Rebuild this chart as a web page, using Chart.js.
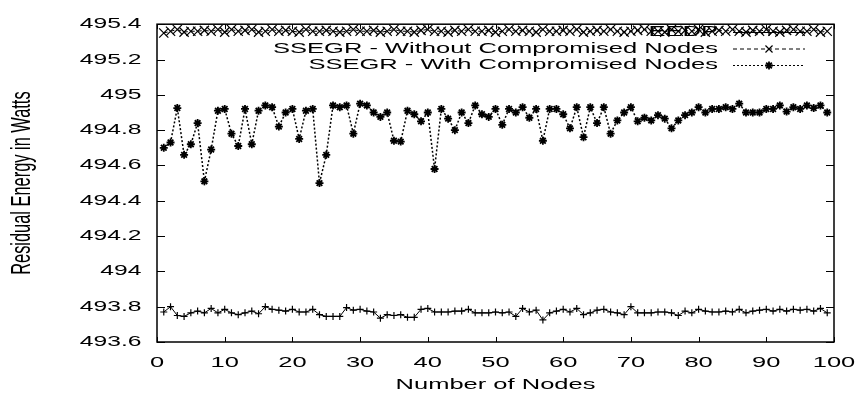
<!DOCTYPE html>
<html>
<head>
<meta charset="utf-8">
<script src="https://cdn.jsdelivr.net/npm/chart.js@4/dist/chart.umd.min.js"></script>
<style>
  html, body { margin: 0; padding: 0; background: #fff; }
  #wrap { width: 859px; height: 394px; position: relative; }
</style>
</head>
<body>
<div id="wrap"><canvas id="c"></canvas></div>
<script>
// ---------- data ----------
const nodes = [
  1,2,3,4,5,6,7,8,9,10,
  11,12,13,14,15,16,17,18,19,20,
  21,22,23,24,25,26,27,28,29,30,
  31,32,33,34,35,36,37,38,39,40,
  41,42,43,44,45,46,47,48,49,50,
  51,52,53,54,55,56,57,58,59,60,
  61,62,63,64,65,66,67,68,69,70,
  71,72,73,74,75,76,77,78,79,80,
  81,82,83,84,85,86,87,88,89,90,
  91,92,93,94,95,96,97,98,99
];

const seriesLabels = [
  'EEDP',
  'SSEGR - Without Compromised Nodes',
  'SSEGR - With Compromised Nodes'
];

const eedp = [
  493.77,493.80,493.75,493.745,493.765,493.775,493.765,493.79,493.765,493.785,
  493.765,493.755,493.765,493.775,493.76,493.80,493.785,493.78,493.775,493.785,
  493.77,493.77,493.785,493.755,493.745,493.745,493.745,493.795,493.78,493.785,
  493.775,493.77,493.735,493.755,493.75,493.755,493.74,493.74,493.785,493.79,
  493.77,493.77,493.77,493.775,493.775,493.785,493.765,493.765,493.765,493.77,
  493.765,493.77,493.745,493.79,493.77,493.78,493.725,493.765,493.775,493.785,
  493.77,493.79,493.755,493.765,493.78,493.785,493.77,493.765,493.755,493.80,
  493.765,493.765,493.765,493.77,493.77,493.765,493.75,493.775,493.765,493.785,
  493.775,493.77,493.77,493.775,493.77,493.785,493.765,493.775,493.78,493.785,
  493.775,493.785,493.775,493.785,493.78,493.785,493.775,493.79,493.765
];

const ssegrWithout = [
  495.35,495.36,495.37,495.355,495.36,495.36,495.365,495.36,495.37,495.355,
  495.37,495.36,495.365,495.37,495.355,495.36,495.37,495.36,495.365,495.36,
  495.355,495.37,495.36,495.36,495.365,495.36,495.355,495.36,495.37,495.36,
  495.36,495.365,495.355,495.36,495.37,495.36,495.36,495.355,495.365,495.37,
  495.36,495.36,495.355,495.365,495.36,495.37,495.36,495.36,495.365,495.355,
  495.36,495.37,495.36,495.365,495.36,495.355,495.37,495.36,495.36,495.365,
  495.36,495.37,495.355,495.36,495.365,495.36,495.37,495.36,495.355,495.36,
  495.365,495.37,495.36,495.36,495.355,495.37,495.36,495.365,495.36,495.37,
  495.355,495.36,495.365,495.36,495.37,495.36,495.355,495.365,495.36,495.37,
  495.36,495.355,495.365,495.37,495.36,495.36,495.37,495.355,495.36
];

const ssegrWith = [
  494.70,494.73,494.925,494.66,494.72,494.84,494.51,494.69,494.91,494.92,
  494.78,494.71,494.92,494.72,494.91,494.94,494.93,494.82,494.90,494.92,
  494.75,494.91,494.92,494.50,494.66,494.94,494.93,494.94,494.78,494.95,
  494.94,494.90,494.875,494.90,494.74,494.735,494.91,494.89,494.85,494.90,
  494.58,494.92,494.865,494.80,494.90,494.84,494.94,494.89,494.875,494.92,
  494.83,494.92,494.90,494.93,494.87,494.92,494.74,494.92,494.92,494.89,
  494.81,494.93,494.76,494.93,494.84,494.93,494.78,494.855,494.90,494.93,
  494.85,494.87,494.855,494.885,494.865,494.81,494.855,494.885,494.90,494.93,
  494.90,494.92,494.92,494.93,494.92,494.95,494.90,494.90,494.90,494.92,
  494.92,494.94,494.905,494.93,494.92,494.94,494.925,494.94,494.90
];

const xTickValues = [0,10,20,30,40,50,60,70,80,90,100];
const yTickValues = [493.6,493.8,494,494.2,494.4,494.6,494.8,495,495.2,495.4];
const xTitle = 'Number of Nodes';
const yTitle = 'Residual Energy in Watts';

// ---------- rendering ----------
const TEXT_STRETCH = 1.7; // reference text is horizontally stretched
const canvas = document.getElementById('c');
const ctx = canvas.getContext('2d');
const origFillText = ctx.fillText;
ctx.fillText = function (text, x, y, maxWidth) {
  const m = this.getTransform();
  const p = m.transformPoint(new DOMPoint(x, y));
  const s = new DOMMatrix().translate(p.x, p.y).scale(TEXT_STRETCH, 1).translate(-p.x, -p.y).multiply(m);
  this.setTransform(s);
  if (maxWidth === undefined || maxWidth === null) origFillText.call(this, text, x, y);
  else origFillText.call(this, text, x, y, maxWidth);
  this.setTransform(m);
};

const FONT = 'Liberation Sans, Arial, Helvetica, sans-serif';

const toXY = (vals) => nodes.map((n, i) => ({ x: n, y: vals[i] }));

const legendSamples = [
  { dash: [], pointStyle: 'cross', radius: 3.5, pw: 1.2 },
  { dash: [4, 3], pointStyle: 'crossRot', radius: 5, pw: 1.2 },
  { dash: [2, 2], pointStyle: 'star', radius: 4, pw: 1.8 }
];

const frameAndLegend = {
  id: 'frameAndLegend',
  afterDatasetsDraw(chart) {
    const { ctx, chartArea: a, scales } = chart;
    ctx.save();
    ctx.strokeStyle = '#000';
    ctx.lineWidth = 1.5;
    ctx.setLineDash([]);
    ctx.strokeRect(a.left, a.top, a.right - a.left, a.bottom - a.top);
    ctx.lineWidth = 1;
    ctx.beginPath();
    scales.y.ticks.forEach(t => {
      const y = Math.round(scales.y.getPixelForValue(t.value)) + 0.5;
      ctx.moveTo(a.left, y); ctx.lineTo(a.left + 8, y);
      ctx.moveTo(a.right, y); ctx.lineTo(a.right - 8, y);
    });
    scales.x.ticks.forEach(t => {
      const x = Math.round(scales.x.getPixelForValue(t.value)) + 0.5;
      ctx.moveTo(x, a.bottom); ctx.lineTo(x, a.bottom - 5);
      ctx.moveTo(x, a.top); ctx.lineTo(x, a.top + 5);
    });
    ctx.stroke();

    // key (gnuplot style: right-aligned text, sample to the right)
    const textRight = 718, x1 = 733, x2 = 805;
    const rowsY = [32, 48.5, 65];
    ctx.font = '15px ' + FONT;
    ctx.textAlign = 'right';
    ctx.textBaseline = 'middle';
    ctx.fillStyle = '#000';
    chart.data.datasets.forEach((ds, i) => {
      const y = rowsY[i];
      ctx.fillText(ds.label, textRight, y);
      const smp = legendSamples[i];
      ctx.save();
      ctx.lineWidth = 1;
      ctx.setLineDash(smp.dash);
      ctx.beginPath();
      ctx.moveTo(x1, y + 0.5); ctx.lineTo(x2, y + 0.5);
      ctx.stroke();
      ctx.setLineDash([]);
      ctx.lineWidth = smp.pw;
      Chart.helpers.drawPoint(ctx, { pointStyle: smp.pointStyle, radius: smp.radius, rotation: 0, borderWidth: smp.pw }, (x1 + x2) / 2, y + 0.5);
      ctx.restore();
    });
    ctx.restore();
  }
};

new Chart(ctx, {
  type: 'line',
  data: {
    datasets: [
      {
        label: seriesLabels[0],
        data: toXY(eedp),
        borderColor: '#000', backgroundColor: '#000',
        borderWidth: 1, pointStyle: 'cross', pointRadius: 3.5,
        pointBorderWidth: 1.2, pointBorderColor: '#000', tension: 0
      },
      {
        label: seriesLabels[1],
        data: toXY(ssegrWithout),
        borderColor: '#000', backgroundColor: '#000',
        borderWidth: 1, borderDash: [4, 3], pointStyle: 'crossRot', pointRadius: 6.5,
        pointBorderWidth: 1.2, pointBorderColor: '#000', tension: 0
      },
      {
        label: seriesLabels[2],
        data: toXY(ssegrWith),
        borderColor: '#000', backgroundColor: '#000',
        borderWidth: 1.5, borderDash: [2, 2], pointStyle: 'star', pointRadius: 4,
        pointBorderWidth: 1.8, pointBorderColor: '#000', tension: 0
      }
    ]
  },
  options: {
    responsive: true,
    maintainAspectRatio: false,
    animation: false,
    events: [],
    layout: { padding: { left: 0, right: 25, top: 19, bottom: 0 } },
    plugins: { legend: { display: false }, tooltip: { enabled: false } },
    scales: {
      x: {
        type: 'linear', min: 0, max: 100, offset: false,
        grid: { display: false, drawTicks: false },
        border: { display: false },
        afterBuildTicks: (s) => { s.ticks = xTickValues.map(v => ({ value: v })); },
        afterFit: (s) => { s.height = 52; },
        ticks: {
          autoSkip: false, maxRotation: 0, padding: 12, color: '#000',
          font: { family: FONT, size: 15 },
          callback: (v) => String(v)
        },
        title: {
          display: true, text: xTitle, color: '#000',
          font: { family: FONT, size: 15 },
          padding: { top: 0, bottom: 0 }
        }
      },
      y: {
        type: 'linear', min: 493.6, max: 495.4,
        grid: { display: false, drawTicks: false },
        border: { display: false },
        afterBuildTicks: (s) => { s.ticks = yTickValues.map(v => ({ value: v })); },
        afterFit: (s) => { s.width = 157; },
        ticks: {
          autoSkip: false, padding: 15.5, color: '#000',
          font: { family: FONT, size: 14.5 },
          callback: (v) => String(parseFloat(Number(v).toFixed(1)))
        },
        title: {
          display: true, text: yTitle, color: '#000',
          font: { family: FONT, size: 16.4 },
          padding: { top: 12, bottom: 0 }
        }
      }
    }
  },
  plugins: [frameAndLegend]
});
</script>
</body>
</html>
